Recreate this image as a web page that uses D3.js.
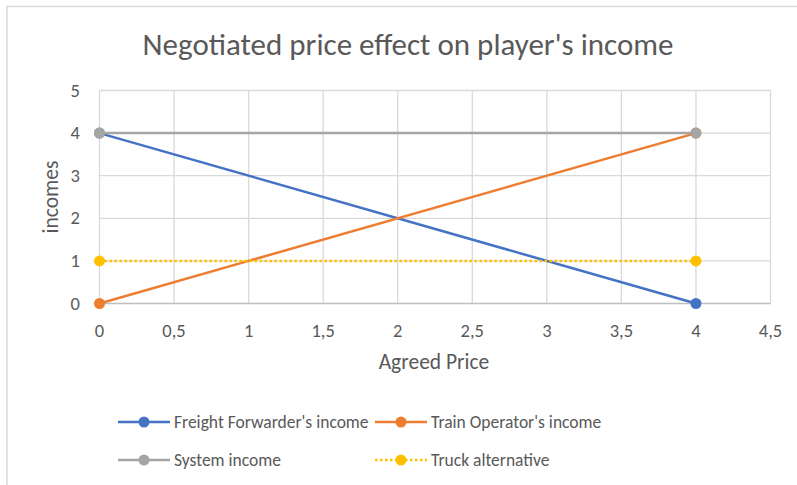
<!DOCTYPE html>
<html>
<head>
<meta charset="utf-8">
<script src="https://cdn.jsdelivr.net/npm/d3@7"></script>
<style>
  body { margin: 0; background: #fff; }
  text { font-family: Calibri, Carlito, "Open Sans", sans-serif; fill: #595959; }
</style>
</head>
<body>
<div id="chart"></div>
<script>
// data
const prices = [0, 4];
const freightForwarder = [4, 0];
const trainOperator = [0, 4];
const systemIncome = [4, 4];
const truckAlternative = [1, 1];
const xTicks = [0, 0.5, 1, 1.5, 2, 2.5, 3, 3.5, 4, 4.5];
const yTicks = [0, 1, 2, 3, 4, 5];

const series = [
  { name: "Freight Forwarder's income", values: freightForwarder, color: "#4472C4", dash: null },
  { name: "Train Operator's income", values: trainOperator, color: "#ED7D31", dash: null },
  { name: "System income", values: systemIncome, color: "#A5A5A5", dash: null },
  { name: "Truck alternative", values: truckAlternative, color: "#FFC000", dash: "2.5,2.5" }
];

const W = 797, H = 485;
const svg = d3.select("#chart").append("svg").attr("width", W).attr("height", H);

// outer chart frame (only top/left edges visible in the crop)
svg.append("rect")
  .attr("x", 7).attr("y", 6.5)
  .attr("width", W + 20).attr("height", H + 20)
  .attr("fill", "none").attr("stroke", "#D9D9D9").attr("stroke-width", 1.5);

const x = d3.scaleLinear().domain([0, 4.5]).range([99.5, 770.5]);
const y = d3.scaleLinear().domain([0, 5]).range([303.5, 90.5]);

// gridlines
svg.append("g").selectAll("line").data(xTicks).join("line")
  .attr("x1", d => x(d)).attr("x2", d => x(d))
  .attr("y1", y(5)).attr("y2", y(0))
  .attr("stroke", "#D9D9D9").attr("stroke-width", 1.3);
svg.append("g").selectAll("line").data(yTicks.filter(d => d > 0)).join("line")
  .attr("x1", x(0)).attr("x2", x(4.5))
  .attr("y1", d => y(d)).attr("y2", d => y(d))
  .attr("stroke", "#D9D9D9").attr("stroke-width", 1.3);
svg.append("line")
  .attr("x1", x(0)).attr("x2", x(4.5))
  .attr("y1", y(0)).attr("y2", y(0))
  .attr("stroke", "#BFBFBF").attr("stroke-width", 1.3);

const fmt = d => String(d).replace(".", ",");

// tick labels
svg.append("g").selectAll("text").data(xTicks).join("text")
  .attr("x", d => x(d)).attr("y", 337)
  .attr("text-anchor", "middle")
  .style("font-size", "18.5px")
  .text(fmt);
svg.append("g").selectAll("text").data(yTicks).join("text")
  .attr("x", 80).attr("y", d => y(d) + 6)
  .attr("text-anchor", "end")
  .style("font-size", "18.5px")
  .text(fmt);

// titles
svg.append("text")
  .attr("x", 408).attr("y", 55)
  .attr("text-anchor", "middle")
  .style("font-size", "31px")
  .text("Negotiated price effect on player's income");
svg.append("text")
  .attr("x", 434).attr("y", 369)
  .attr("text-anchor", "middle")
  .style("font-size", "21.5px")
  .text("Agreed Price");
svg.append("text")
  .attr("transform", "translate(58,197) rotate(-90)")
  .attr("text-anchor", "middle")
  .style("font-size", "21.5px")
  .text("incomes");

// lines and markers
const line = d3.line().x((d, i) => x(prices[i])).y(d => y(d));
series.forEach(s => {
  const g = svg.append("g");
  g.append("path")
    .attr("d", line(s.values))
    .attr("fill", "none")
    .attr("stroke", s.color)
    .attr("stroke-width", 2.5)
    .attr("stroke-dasharray", s.dash);
  g.selectAll("circle").data(s.values).join("circle")
    .attr("cx", (d, i) => x(prices[i]))
    .attr("cy", d => y(d))
    .attr("r", 5.5)
    .attr("fill", s.color);
});

// legend
const legendPos = [[118, 422], [375, 422], [118, 460], [375, 460]];
series.forEach((s, i) => {
  const [lx, ly] = legendPos[i];
  const g = svg.append("g").attr("transform", `translate(${lx},${ly})`);
  g.append("line")
    .attr("x1", 0).attr("x2", 52).attr("y1", 0).attr("y2", 0)
    .attr("stroke", s.color).attr("stroke-width", 2.5)
    .attr("stroke-dasharray", s.dash);
  g.append("circle").attr("cx", 26).attr("cy", 0).attr("r", 5.5).attr("fill", s.color);
  g.append("text")
    .attr("x", 56).attr("y", 5.5)
    .style("font-size", "17.5px")
    .text(s.name);
});
</script>
</body>
</html>
